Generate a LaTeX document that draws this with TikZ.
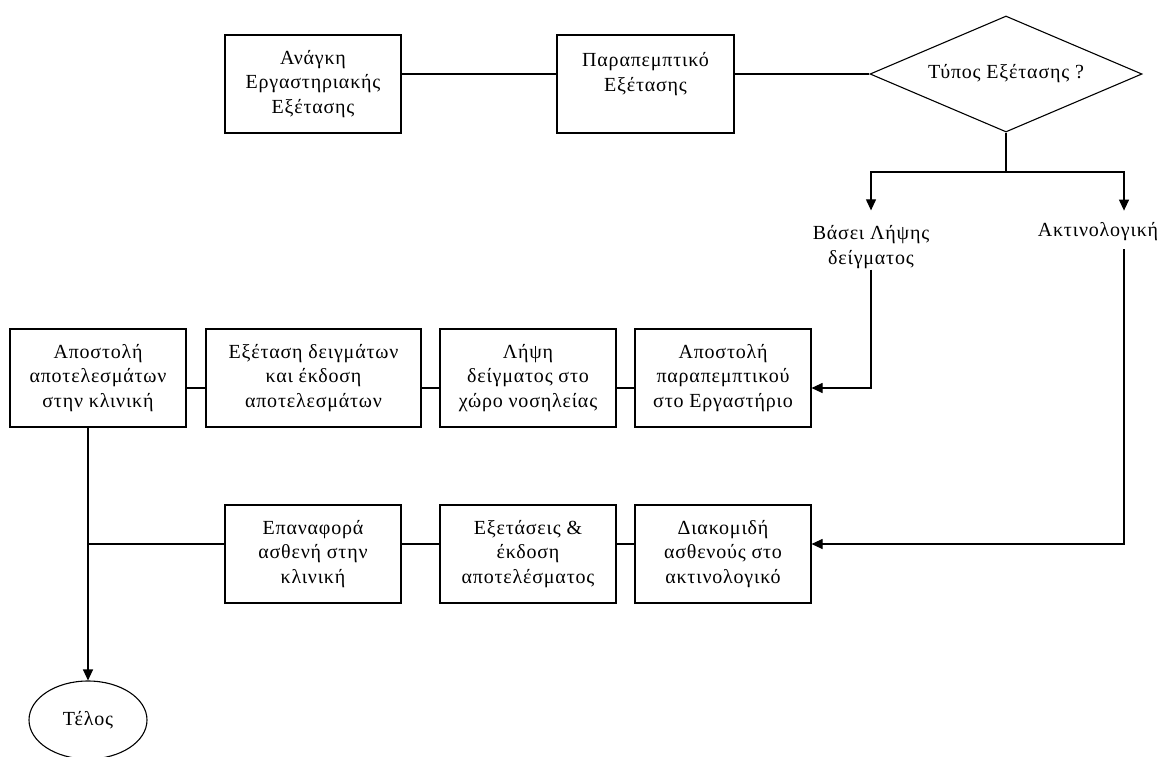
\documentclass[tikz,border=0pt]{standalone}
\usepackage{fontspec}
\setmainfont[LetterSpace=4]{Liberation Serif}
\usetikzlibrary{shapes.geometric,arrows.meta,calc}

\begin{document}
\begin{tikzpicture}[x=1pt,y=-1pt,
  every node/.style={font=\fontsize{20}{24.5}\selectfont},
  line/.style={line width=1.1pt, draw=black},
  arr/.style={line, -{Triangle[length=11pt,width=10pt]}},
  stepbox/.style={draw, line width=1.1pt, rectangle, minimum height=98pt,
                  minimum width=176pt, inner sep=0pt, align=center},
  widebox/.style={stepbox, minimum width=215pt},
  decision/.style={draw, line width=1.1pt, diamond, aspect=2.345,
                   minimum width=272pt, minimum height=116pt, inner sep=0pt},
  terminal/.style={draw, line width=1.1pt, ellipse, minimum width=118pt,
                   minimum height=78pt, inner sep=0pt},
  caption/.style={inner sep=0pt, align=center}
]
\path[use as bounding box, fill=white] (0,0) rectangle (1162,756);

% top row
\node[stepbox] (need) at (313,84) {Ανάγκη\\Εργαστηριακής\\Εξέτασης};
\node[stepbox, minimum width=177pt] (ref) at (645.5,84) {Παραπεμπτικό\\Εξέτασης\\\mbox{}};
\node[decision] (dia) at (1006,74) {Τύπος Εξέτασης ?};

% branch captions
\node[caption] (lab) at (871,247) {Βάσει Λήψης\\δείγματος};
\node[caption] (rad) at (1098,232) {Ακτινολογική};

% middle row
\node[stepbox] (send) at (98,378) {Αποστολή\\αποτελεσμάτων\\στην κλινική};
\node[widebox] (exam) at (313.5,378) {Εξέταση δειγμάτων\\και έκδοση\\αποτελεσμάτων};
\node[stepbox] (take) at (528,378) {Λήψη\\δείγματος στο\\χώρο νοσηλείας};
\node[stepbox] (sendref) at (723,378) {Αποστολή\\παραπεμπτικού\\στο Εργαστήριο};

% bottom row
\node[stepbox] (back) at (313,554) {Επαναφορά\\ασθενή στην\\κλινική};
\node[stepbox] (tests) at (528,554) {Εξετάσεις \&\\έκδοση\\αποτελέσματος};
\node[stepbox] (move) at (723,554) {Διακομιδή\\ασθενούς στο\\ακτινολογικό};

% end
\node[terminal] (end) at (88,720) {Τέλος};

\coordinate (split) at (1006,172);

% connectors, top row
\draw[line] ([yshift=10pt]need.east) -- ([yshift=10pt]ref.west);
\draw[line] ([yshift=10pt]ref.east) -- (dia.west);

% decision branches
\draw[line] (dia.south) -- (split);
\draw[arr] (split) -| ([yshift=15pt]lab.north);
\draw[arr] (split) -| ([xshift=26pt,yshift=12pt]rad.north);

% sample branch
\draw[arr] ([yshift=-1pt]lab.south) |- ([yshift=-10pt]sendref.east);
\draw[line] ([yshift=-10pt]sendref.west) -- ([yshift=-10pt]take.east);
\draw[line] ([yshift=-10pt]take.west) -- ([yshift=-10pt]exam.east);
\draw[line] ([yshift=-10pt]exam.west) -- ([yshift=-10pt]send.east);

% radiology branch
\draw[arr] ([xshift=26pt,yshift=-8pt]rad.south) |- ([yshift=10pt]move.east);
\draw[line] ([yshift=10pt]move.west) -- ([yshift=10pt]tests.east);
\draw[line] ([yshift=10pt]tests.west) -- ([yshift=10pt]back.east);
\draw[line] ([yshift=10pt]back.west) -- ([yshift=10pt]back.west -| end.north);

% to the end
\draw[arr] (send.south -| end.north) -- (end.north);
\end{tikzpicture}
\end{document}
